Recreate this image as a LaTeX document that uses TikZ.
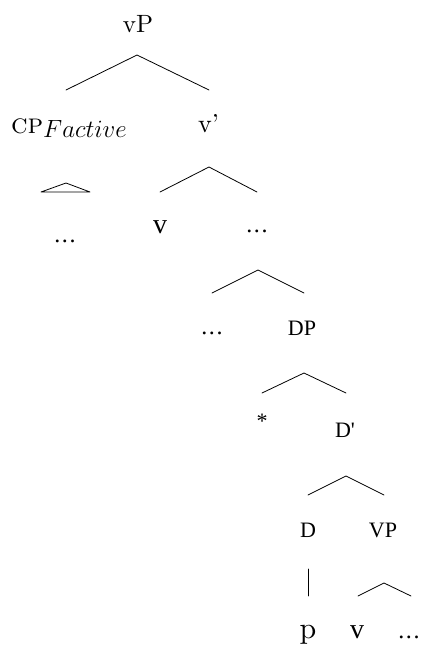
\documentclass[tikz,border=0pt]{standalone}
\usepackage{fontspec}
\setmainfont{lmroman10-regular.otf}[ItalicFont=lmroman10-italic.otf,BoldFont=lmroman10-bold.otf,SmallCapsFont=lmromancaps10-regular.otf]
\newfontfamily\tms{Liberation Serif}
\newcommand{\dotrow}{.\kern1.6pt.\kern1.6pt.}
\begin{document}
\begin{tikzpicture}[x=1pt,y=-1pt,
  lbl/.style={anchor=base,inner sep=0pt,outer sep=0pt},
  branch/.style={line width=0.8pt,line cap=round,line join=round}]
\useasboundingbox (0,0) rectangle (421,646);
% labels, placed on their baselines
\node[lbl,font=\fontsize{25}{30}\selectfont] (vP) at (138,32) {vP};
\node[lbl,anchor=base west,font=\fontsize{24}{28}\selectfont] (CP) at (11,133) {{\fontsize{28}{32}\selectfont\textsc{cp}}\raisebox{-4pt}{$Factive$}};
\node[lbl,font=\fontsize{26}{30}\selectfont] (vbar) at (205,132) {v\rlap{'}};
\node[lbl,font=\tms\fontsize{24}{28}\selectfont] (cpdots) at (65,242) {\dotrow};
\node[lbl,font=\tms\fontsize{28}{32}\selectfont] (v1) at (160,233) {v};
\node[lbl,font=\tms\fontsize{24}{28}\selectfont] (vdots) at (257,232) {\dotrow};
\node[lbl,font=\tms\fontsize{24}{28}\selectfont] (ldots) at (212,334) {\dotrow};
\node[lbl,font=\tms\fontsize{22}{26}\selectfont] (DP) at (302,335) {DP};
\node[lbl,font=\tms\fontsize{22}{26}\selectfont] (spec) at (262,428) {*};
\node[lbl,font=\tms\fontsize{22}{26}\selectfont] (Dbar) at (343,437) {D\rlap{'}};
\node[lbl,font=\tms\fontsize{22}{26}\selectfont] (D) at (308,537) {D};
\node[lbl,font=\tms\fontsize{22}{26}\selectfont] (VP) at (383,537) {VP};
\node[lbl,font=\fontsize{30}{34}\selectfont] (p) at (308,638) {p};
\node[lbl,font=\tms\fontsize{28}{32}\selectfont] (v2) at (357,638) {v};
\node[lbl,font=\tms\fontsize{24}{28}\selectfont] (vpdots) at (409,638) {\dotrow};
% branch end points
\coordinate (vP-m) at (137,55);  \coordinate (CP-t) at (66,90);  \coordinate (vbar-t) at (209,90);
\coordinate (vbar-m) at (209,167); \coordinate (v1-t) at (160,192); \coordinate (vdots-t) at (257,192);
\coordinate (vdots-m) at (258,270); \coordinate (ldots-t) at (212,293); \coordinate (DP-t) at (304,293);
\coordinate (DP-m) at (304,373); \coordinate (spec-t) at (262,393); \coordinate (Dbar-t) at (346,393);
\coordinate (Dbar-m) at (346,476); \coordinate (D-t) at (308,495); \coordinate (VP-t) at (384,495);
\coordinate (D-m) at (308,569); \coordinate (p-t) at (308,596);
\coordinate (VP-m) at (384,583); \coordinate (v2-t) at (358,596); \coordinate (vpdots-t) at (411,596);
\coordinate (CP-m) at (66,183); \coordinate (CP-l) at (41,192); \coordinate (CP-r) at (90,192);
% branches
\draw[branch] (CP-t) -- (vP-m) -- (vbar-t);
\draw[branch] (v1-t) -- (vbar-m) -- (vdots-t);
\draw[branch] (ldots-t) -- (vdots-m) -- (DP-t);
\draw[branch] (spec-t) -- (DP-m) -- (Dbar-t);
\draw[branch] (D-t) -- (Dbar-m) -- (VP-t);
\draw[branch] (D-m) -- (p-t);
\draw[branch] (v2-t) -- (VP-m) -- (vpdots-t);
\draw[branch] (CP-l) -- (CP-m) -- (CP-r) -- cycle;
\end{tikzpicture}
\end{document}
